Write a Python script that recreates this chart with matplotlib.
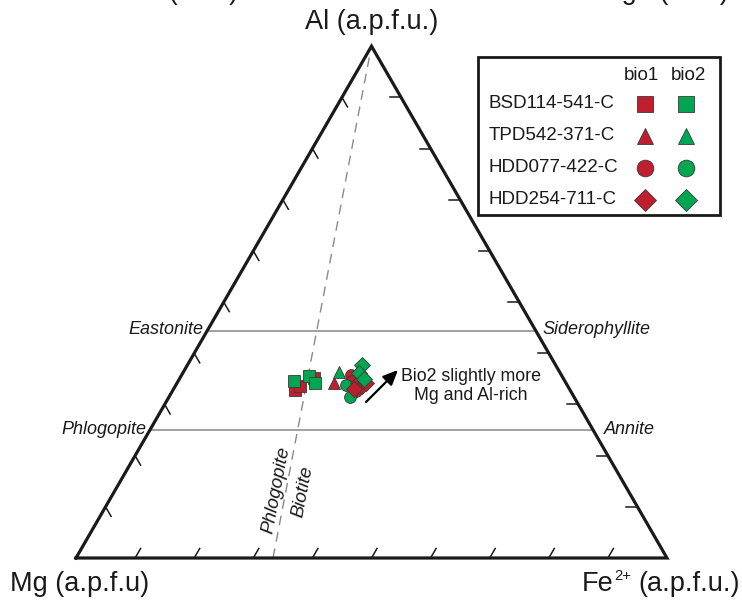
import numpy as np
import matplotlib
matplotlib.use('Agg')
import matplotlib.pyplot as plt
from matplotlib.patches import Rectangle

plt.rcParams['font.family'] = ['Liberation Sans', 'DejaVu Sans']

# ---------------- data (ternary proportions Al, Mg, Fe2+) ----------------
samples = ['BSD114-541-C', 'TPD542-371-C', 'HDD077-422-C', 'HDD254-711-C']
markers = ['s', '^', 'o', 'D']

bio1_al = [[0.329, 0.337, 0.352], [0.341], [0.358, 0.327, 0.346], [0.341, 0.337, 0.343, 0.331]]
bio1_mg = [[0.465, 0.453, 0.421], [0.393], [0.356, 0.363, 0.360], [0.352, 0.348, 0.339, 0.365]]
bio1_fe = [[0.206, 0.210, 0.227], [0.266], [0.286, 0.310, 0.294], [0.307, 0.316, 0.319, 0.305]]

bio2_al = [[0.346, 0.356, 0.341], [0.364], [0.339, 0.315], [0.378, 0.362, 0.350]]
bio2_mg = [[0.458, 0.428, 0.425], [0.373], [0.375, 0.379], [0.327, 0.340, 0.338]]
bio2_fe = [[0.196, 0.216, 0.234], [0.263], [0.287, 0.306], [0.295, 0.298, 0.312]]

# reference compositions (Al fraction of horizontal lines, Fe/(Fe+Mg) of divider)
ref_lines_al = [0.444, 0.25]
divider_fe = 1.0 / 3.0
tick_values = [0.1, 0.2, 0.3, 0.4, 0.5, 0.6, 0.7, 0.8, 0.9]

RED = '#BE1E2D'
GREEN = '#00A651'
INK = '#1a1a1a'
S3 = np.sqrt(3) / 2
BIG = 19.5


def tern(al, mg, fe):
    al = np.asarray(al, float); mg = np.asarray(mg, float); fe = np.asarray(fe, float)
    t = al + mg + fe
    return (fe + al / 2) / t, al / t * S3


SIDE = 591.0
def P(x, y):
    """pixel position -> axes data coords (layout helper)"""
    return (x - 76) / SIDE, (558 - y) / SIDE


fig = plt.figure(figsize=(7.42, 6.03), dpi=100)
ax = fig.add_axes([0, 0, 1, 1])
ax.set_xlim(-76 / SIDE, 666 / SIDE)
ax.set_ylim(-45 / SIDE, 558 / SIDE)
ax.axis('off')

# horizontal reference lines
for a in ref_lines_al:
    ax.plot([a / 2, 1 - a / 2], [a * S3, a * S3], color='#9a9a9a', lw=1.3, zorder=1)

# phlogopite / biotite divider
ax.plot([divider_fe, 0.5], [0, S3], color='#8a8a8a', lw=1.0, dashes=(7, 5), zorder=1)

# triangle
ax.plot([0, 1, 0.5, 0], [0, 0, S3, 0], color=INK, lw=2.3, zorder=3,
        solid_joinstyle='miter')

# ticks
L = 11 / SIDE
for v in tick_values:
    ax.plot([v, v + L * 0.5], [0, L * S3], color=INK, lw=1.1, zorder=3)
    x0, y0 = v / 2, v * S3
    ax.plot([x0, x0 + L * 0.5], [y0, y0 - L * S3], color=INK, lw=1.1, zorder=3)
    x0 = 1 - v / 2
    ax.plot([x0, x0 - L], [y0, y0], color=INK, lw=1.1, zorder=3)

# data points
for i, m in enumerate(markers):
    ms = 8.5 if m != 'D' else 8
    x, y = tern(bio1_al[i], bio1_mg[i], bio1_fe[i])
    ax.plot(x, y, ls='none', marker=m, ms=ms, mfc=RED, mec='#3a3a3a', mew=0.6, zorder=5)
    x, y = tern(bio2_al[i], bio2_mg[i], bio2_fe[i])
    ax.plot(x, y, ls='none', marker=m, ms=ms, mfc=GREEN, mec='#3a3a3a', mew=0.6, zorder=5)

# arrow + annotation
ax.annotate('', xy=P(398, 370), xytext=P(366, 402),
            arrowprops=dict(arrowstyle='-|>,head_length=0.9,head_width=0.4',
                            color='black', lw=1.6, shrinkA=0, shrinkB=0), zorder=6)
ax.text(*P(471, 386), 'Bio2 slightly more\nMg and Al-rich', ha='center', va='center',
        fontsize=12.8, linespacing=1.15, color=INK)

# italic end-member labels
ax.text(*P(203, 329), 'Eastonite', ha='right', va='center', style='italic', fontsize=13, color=INK)
ax.text(*P(542, 329), 'Siderophyllite', ha='left', va='center', style='italic', fontsize=13, color=INK)
ax.text(*P(146, 430), 'Phlogopite', ha='right', va='center', style='italic', fontsize=13, color=INK)
ax.text(*P(604, 430), 'Annite', ha='left', va='center', style='italic', fontsize=13, color=INK)
ang = np.degrees(np.arctan2(S3, 0.5 - divider_fe))
ax.text(*P(276, 490), 'Phlogopite', ha='center', va='center', style='italic', fontsize=13.5,
        rotation=ang, rotation_mode='anchor', color=INK)
ax.text(*P(303, 492), 'Biotite', ha='center', va='center', style='italic', fontsize=13.5,
        rotation=ang, rotation_mode='anchor', color=INK)

# axis labels
ax.text(*P(372, 29), 'Al (a.p.f.u.)', ha='center', va='baseline', fontsize=BIG, color=INK)
ax.text(*P(10, 591), 'Mg (a.p.f.u)', ha='left', va='baseline', fontsize=BIG, color=INK)
ax.text(*P(740, 591), '(a.p.f.u.)', ha='right', va='baseline', fontsize=BIG, color=INK)
ax.text(*P(614, 580), '2+', ha='left', va='baseline', fontsize=BIG * 0.55, color=INK)
ax.text(*P(614, 591), 'Fe', ha='right', va='baseline', fontsize=BIG, color=INK)

# fragments of the panel labels above (cropped at the top edge)
ax.text(*P(238, -1), 'Al (wt%)', ha='right', va='baseline', fontsize=BIG, color=INK, clip_on=False)
ax.text(*P(729, -1), 'Mg# (wt%)', ha='right', va='baseline', fontsize=BIG, color=INK, clip_on=False)

# legend (drawn manually)
x0, y0 = P(478, 215)
x1, y1 = P(720, 57)
ax.add_patch(Rectangle((x0, y0), x1 - x0, y1 - y0, fc='white', ec=INK, lw=2.0, zorder=7))
ax.text(*P(641, 75), 'bio1', ha='center', va='center', fontsize=13.5, color=INK, zorder=8)
ax.text(*P(688, 75), 'bio2', ha='center', va='center', fontsize=13.5, color=INK, zorder=8)
row_y = [104, 136, 168, 200]
for i, (name, m) in enumerate(zip(samples, markers)):
    ax.text(*P(489, row_y[i]), name, ha='left', va='center', fontsize=13.5, color=INK, zorder=8)
    ms = 12 if m != 'D' else 11.5
    for xx, c in ((645, RED), (686, GREEN)):
        ax.plot(*P(xx, row_y[i]), marker=m, ms=ms, mfc=c, mec='#3a3a3a', mew=0.6, zorder=9)

fig.savefig('out.png', dpi=100)
